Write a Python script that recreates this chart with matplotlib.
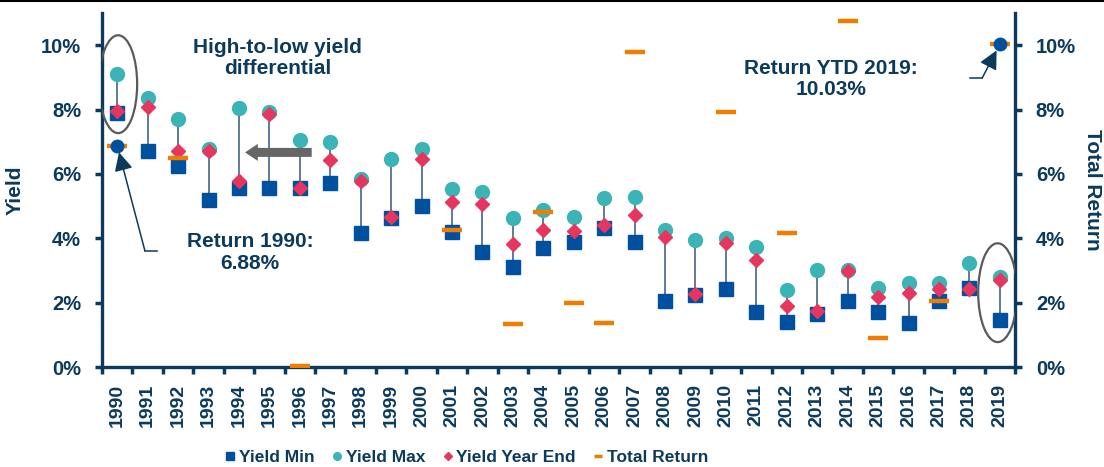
import numpy as np
import matplotlib

matplotlib.use("Agg")
import matplotlib.pyplot as plt  # noqa: E402
from matplotlib.lines import Line2D  # noqa: E402
from matplotlib.patches import Ellipse, FancyArrow  # noqa: E402
from matplotlib.ticker import FixedLocator, FuncFormatter  # noqa: E402

NAVY = "#0b3a5d"
SQ = "#0050a0"
TEAL = "#3bb4b6"
PINK = "#e6365f"
ORANGE = "#f07d00"
STEM = "#46648a"
GREY = "#5a5a5a"

years = list(range(1990, 2020))
yield_min = [7.88, 6.71, 6.25, 5.19, 5.57, 5.57, 5.55, 5.72, 4.18, 4.63,
             5.01, 4.20, 3.58, 3.11, 3.70, 3.89, 4.33, 3.89, 2.06, 2.24,
             2.41, 1.72, 1.41, 1.64, 2.06, 1.70, 1.38, 2.06, 2.47, 1.46]
yield_max = [9.12, 8.36, 7.72, 6.77, 8.05, 7.93, 7.07, 7.00, 5.83, 6.45,
             6.79, 5.53, 5.44, 4.62, 4.88, 4.67, 5.26, 5.27, 4.25, 3.94,
             4.00, 3.72, 2.39, 3.01, 3.01, 2.47, 2.60, 2.62, 3.24, 2.80]
yield_end = [7.95, 8.08, 6.71, 6.71, 5.79, 7.86, 5.57, 6.43, 5.79, 4.65,
             6.45, 5.13, 5.06, 3.82, 4.27, 4.23, 4.41, 4.72, 4.05, 2.26,
             3.84, 3.32, 1.89, 1.75, 2.99, 2.18, 2.29, 2.44, 2.42, 2.70]
# years whose return falls outside the 0-11% window are not shown
nan = np.nan
total_return = [6.88, nan, 6.50, nan, nan, nan, 0.04, nan, nan, nan,
                nan, 4.27, nan, 1.33, 4.82, 2.00, 1.38, 9.79, nan, nan,
                7.93, nan, 4.18, nan, 10.75, 0.91, nan, 2.06, nan, 10.03]
y_ticks = [0, 2, 4, 6, 8, 10]

plt.rcParams["font.family"] = ["Liberation Sans", "DejaVu Sans"]
plt.rcParams["font.weight"] = "bold"
plt.rcParams["axes.labelweight"] = "bold"

x = np.arange(len(years))
fig = plt.figure(figsize=(11.04, 4.67), dpi=100)
ax = fig.add_axes([0.0924, 0.2141, 0.827, 0.7579])
ax2 = ax.twinx()

ax.vlines(x, yield_min, yield_max, color=STEM, lw=1.2, zorder=1)
ax.plot(x, yield_min, "s", color=SQ, ms=10, ls="none", zorder=2)
ax.plot(x, yield_max, "o", color=TEAL, ms=10, ls="none", zorder=3)
ax.plot(x, yield_end, "D", color=PINK, ms=7.5, ls="none", zorder=4)
ax2.plot(x, total_return, "_", color=ORANGE, ms=14, mew=3.2, ls="none", zorder=5)
# end-point dots for the two callouts
ax2.plot([x[0], x[-1]], [total_return[0], total_return[-1]], "o", color=SQ,
         ms=9, ls="none", zorder=6)

for a in (ax, ax2):
    a.set_xlim(-0.5, len(years) - 0.5)
    a.set_ylim(0, 11)
    a.yaxis.set_major_locator(FixedLocator(y_ticks))
    a.yaxis.set_major_formatter(FuncFormatter(lambda v, p: f"{v:.0f}%"))
    for s in a.spines.values():
        s.set_visible(False)
    a.tick_params(axis="y", colors=NAVY, labelsize=14.5, length=5, width=2.5, pad=10)

ax.spines["left"].set_visible(True)
ax.spines["bottom"].set_visible(True)
ax2.spines["right"].set_visible(True)
for s in (ax.spines["left"], ax.spines["bottom"], ax2.spines["right"]):
    s.set_color(NAVY)
    s.set_linewidth(2.4)

ax.set_xticks(x)
ax.set_xticklabels([str(y) for y in years], rotation=90)
ax.set_xticks(np.arange(-0.5, len(years)), minor=True)
ax.tick_params(axis="x", which="major", length=0, pad=12, labelsize=14, colors=NAVY)
ax.tick_params(axis="x", which="minor", length=5, width=2.5, color=NAVY)

ax.set_ylabel("Yield", fontsize=15, color=NAVY)
ax.yaxis.set_label_coords(-0.085, 0.5)
ax2.set_ylabel("Total Return", fontsize=15, color=NAVY, rotation=270, va="center")
ax2.yaxis.set_label_coords(1.085, 0.5)

# callouts
ax2.add_patch(Ellipse((0.03, 8.79), 1.25, 3.04, fill=False, ec=GREY, lw=1.6, zorder=7))
ax2.add_patch(Ellipse((28.93, 2.31), 1.28, 3.07, fill=False, ec=GREY, lw=1.6, zorder=7))
ax2.add_patch(FancyArrow(6.39, 6.67, -2.19, 0, width=0.28, head_width=0.53,
                         head_length=0.42, length_includes_head=True,
                         color="#666666", lw=0, zorder=7))

ax2.text(5.28, 9.61, "High-to-low yield\ndifferential", ha="center", va="center",
         fontsize=15, color=NAVY, linespacing=1.15, zorder=8)
ax2.text(4.36, 3.56, "Return 1990:\n6.88%", ha="center", va="center",
         fontsize=15, color=NAVY, linespacing=1.15, zorder=8)
ax2.text(23.46, 8.94, "Return YTD 2019:\n10.03%", ha="center", va="center",
         fontsize=15, color=NAVY, linespacing=1.15, zorder=8)

arrow = dict(arrowstyle="-|>,head_length=0.7,head_width=0.35", color=NAVY,
             lw=1.1, mutation_scale=16, shrinkA=0, shrinkB=5)
ax2.plot([1.31, 0.91], [3.61, 3.61], color=NAVY, lw=1.1, zorder=8)
ax2.annotate("", xy=(0, total_return[0]), xytext=(0.91, 3.61), arrowprops=arrow,
             zorder=8)
ax2.plot([28.02, 28.42], [8.98, 8.98], color=NAVY, lw=1.1, zorder=8)
ax2.annotate("", xy=(29, total_return[-1]), xytext=(28.42, 8.98), arrowprops=arrow,
             zorder=8)

# legend proxies: the legend markers are drawn smaller than the plotted ones
handles = [
    Line2D([], [], marker="s", color=SQ, ms=6, ls="none"),
    Line2D([], [], marker="o", color=TEAL, ms=5.5, ls="none"),
    Line2D([], [], marker="D", color=PINK, ms=4.3, ls="none"),
    Line2D([], [], marker="_", color=ORANGE, ms=5.5, mew=2.5, ls="none"),
]
labels = ["Yield Min", "Yield Max", "Yield Year End", "Total Return"]
fig.legend(handles, labels, loc="center", bbox_to_anchor=(0.423, 0.021), ncol=4,
           frameon=False, handlelength=0.5, handletextpad=0.25, columnspacing=1.05,
           prop={"weight": "bold", "size": 12.5}, labelcolor=NAVY)

fig.add_artist(Line2D([0, 1], [0.998, 0.998], color="black", lw=1.5))

fig.savefig("out.png", dpi=100, facecolor="white")
